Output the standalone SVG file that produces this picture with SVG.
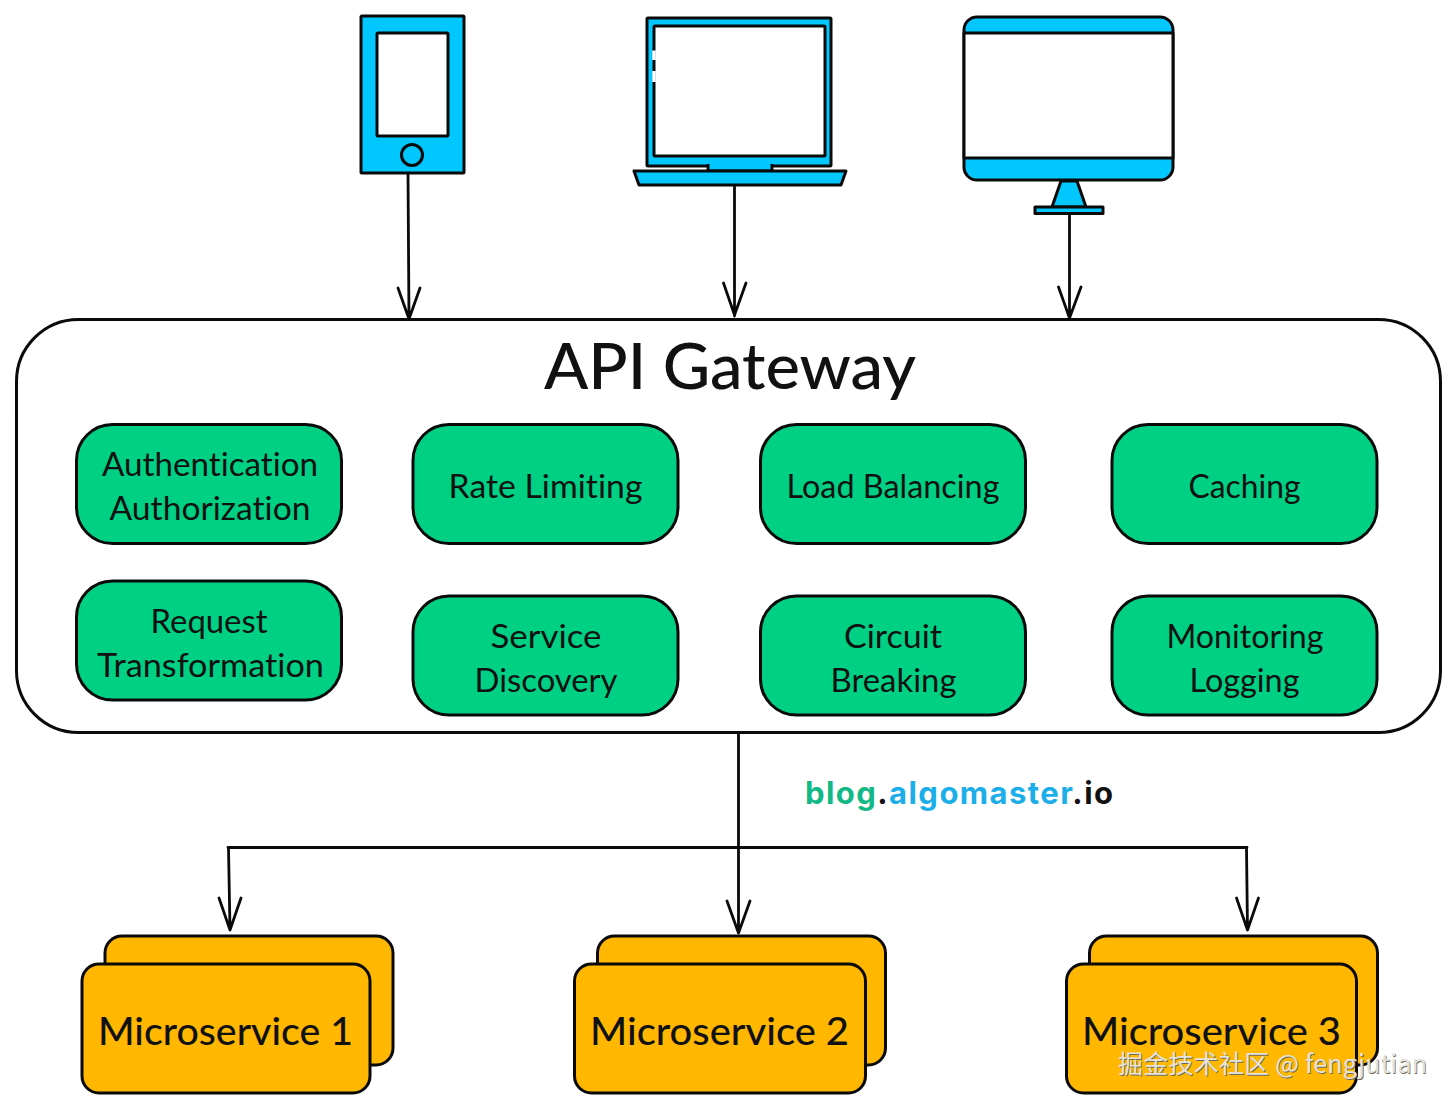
<svg xmlns="http://www.w3.org/2000/svg" width="1456" height="1108" viewBox="0 0 1456 1108">
<style>
.s{stroke:#0a0a0a;stroke-width:3;stroke-linejoin:round}
.b{fill:#00c8ff}.w{fill:#fff}.g{fill:#00d084}.o{fill:#ffb700}
.l{fill:none;stroke:#0a0a0a;stroke-width:2.8;stroke-linecap:round;stroke-linejoin:round}
text{font-family:"Lato","Noto Sans",sans-serif;fill:#111;text-anchor:middle;font-variant-ligatures:none}
.t{font-size:33px}
.m{font-size:38px;font-weight:500;text-anchor:start}
</style>
<defs><rect id="box" width="265" height="119" rx="36" class="s g"/></defs>
<rect width="1456" height="1108" fill="#fff"/>
<g id="phone">
<rect x="361" y="16" width="103" height="157" rx="1" class="s b"/>
<rect x="377" y="33" width="71" height="103" rx="1" class="s w"/>
<circle cx="412" cy="155" r="10.500" class="s b"/>
</g>
<g id="laptop">
<rect x="647" y="18" width="184" height="148" rx="1" class="s b"/>
<rect x="654" y="26" width="171" height="130" rx="1" class="s w"/>
<path d="M654 50.500V60M654 71V82" stroke="#fff" stroke-width="3.500" fill="none"/>
<path d="M708 164V171H772V164" class="s b"/>
<path d="M634 171H846L841 185H639Z" class="s b"/>
</g>
<g id="monitor">
<rect x="964" y="17" width="209" height="163" rx="13" class="s b"/>
<rect x="964" y="33" width="209" height="125" class="s w"/>
<path d="M1061 181H1077L1086 207H1052Z" class="s b"/>
<rect x="1035" y="207" width="68" height="6.500" class="s b"/>
</g>
<g id="gateway">
<rect x="16.500" y="319.500" width="1424" height="413" rx="62" fill="#fff" stroke="#0a0a0a" stroke-width="3"/>
<text x="730" y="389" font-size="64" font-weight="500" textLength="372" lengthAdjust="spacingAndGlyphs">API Gateway</text>
</g>
<g id="auth"><use href="#box" x="76.500" y="424.500"/><text class="t" x="210" y="476" textLength="216" lengthAdjust="spacingAndGlyphs">Authentication</text><text class="t" x="210" y="520" textLength="201" lengthAdjust="spacingAndGlyphs">Authorization</text></g>
<g id="rate"><use href="#box" x="413" y="424.500"/><text class="t" x="545.500" y="498" textLength="194" lengthAdjust="spacingAndGlyphs">Rate Limiting</text></g>
<g id="load"><use href="#box" x="760.500" y="424.500"/><text class="t" x="893" y="498" textLength="213" lengthAdjust="spacingAndGlyphs">Load Balancing</text></g>
<g id="caching"><use href="#box" x="1112" y="424.500"/><text class="t" x="1244.500" y="498" textLength="112" lengthAdjust="spacingAndGlyphs">Caching</text></g>
<g id="request"><use href="#box" x="76.500" y="581"/><text class="t" x="209" y="633" textLength="117" lengthAdjust="spacingAndGlyphs">Request</text><text class="t" x="210.500" y="677" textLength="227" lengthAdjust="spacingAndGlyphs">Transformation</text></g>
<g id="discovery"><use href="#box" x="413" y="596"/><text class="t" x="546" y="648" textLength="111" lengthAdjust="spacingAndGlyphs">Service</text><text class="t" x="546" y="692" textLength="143" lengthAdjust="spacingAndGlyphs">Discovery</text></g>
<g id="circuit"><use href="#box" x="760.500" y="596"/><text class="t" x="893" y="648" textLength="98" lengthAdjust="spacingAndGlyphs">Circuit</text><text class="t" x="893.500" y="692" textLength="126" lengthAdjust="spacingAndGlyphs">Breaking</text></g>
<g id="monitoring"><use href="#box" x="1112" y="596"/><text class="t" x="1245" y="648" textLength="157" lengthAdjust="spacingAndGlyphs">Monitoring</text><text class="t" x="1244.500" y="692" textLength="110" lengthAdjust="spacingAndGlyphs">Logging</text></g>
<g id="connectors">
<path class="l" d="M408 174L409 319M398 288L409 319L420 288"/>
<path class="l" d="M734.500 186V316M723.500 283L734.500 315L746 283"/>
<path class="l" d="M1069.500 214V319M1058.500 287L1069.500 318L1081 287"/>
<path class="l" d="M738.500 733V933M228 847.500H1247M727 901L738.500 933L750 901"/>
<path class="l" d="M228.500 848L230 930M219 898L230 930L241 898"/>
<path class="l" d="M1246.500 848L1247.500 930M1236.500 898L1247.500 930L1258.500 898"/>
</g>
<text x="805" y="804" font-size="31" font-weight="700" style="font-family:Inter,sans-serif;text-anchor:start" textLength="308"><tspan fill="#12b886">blog</tspan><tspan fill="#111">.</tspan><tspan fill="#1baee8">algomaster</tspan><tspan fill="#111">.io</tspan></text>
<g id="ms1"><rect x="105" y="936" width="288" height="129" rx="17" class="s o"/><rect x="82" y="964" width="288" height="129" rx="17" class="s o"/><text class="m" x="98" y="1045" textLength="255" lengthAdjust="spacingAndGlyphs">Microservice 1</text></g>
<g id="ms2"><rect x="597.500" y="936" width="288" height="129" rx="17" class="s o"/><rect x="574.500" y="964" width="291" height="129" rx="17" class="s o"/><text class="m" x="590" y="1045" textLength="259" lengthAdjust="spacingAndGlyphs">Microservice 2</text></g>
<g id="ms3"><rect x="1089.500" y="936" width="288" height="129" rx="17" class="s o"/><rect x="1066.500" y="964" width="290" height="129" rx="17" class="s o"/><text class="m" x="1082" y="1045" textLength="259" lengthAdjust="spacingAndGlyphs">Microservice 3</text></g>
<text x="1118" y="1073" font-size="25" style="font-family:'Noto Sans CJK SC','Liberation Sans',sans-serif;text-anchor:start;fill:#6f6a5c" textLength="309" transform="translate(.8 .8)">掘金技术社区 @ fengjutian</text>
<text x="1118" y="1073" font-size="25" style="font-family:'Noto Sans CJK SC','Liberation Sans',sans-serif;text-anchor:start;fill:#e4e2da" textLength="309">掘金技术社区 @ fengjutian</text>
</svg>
